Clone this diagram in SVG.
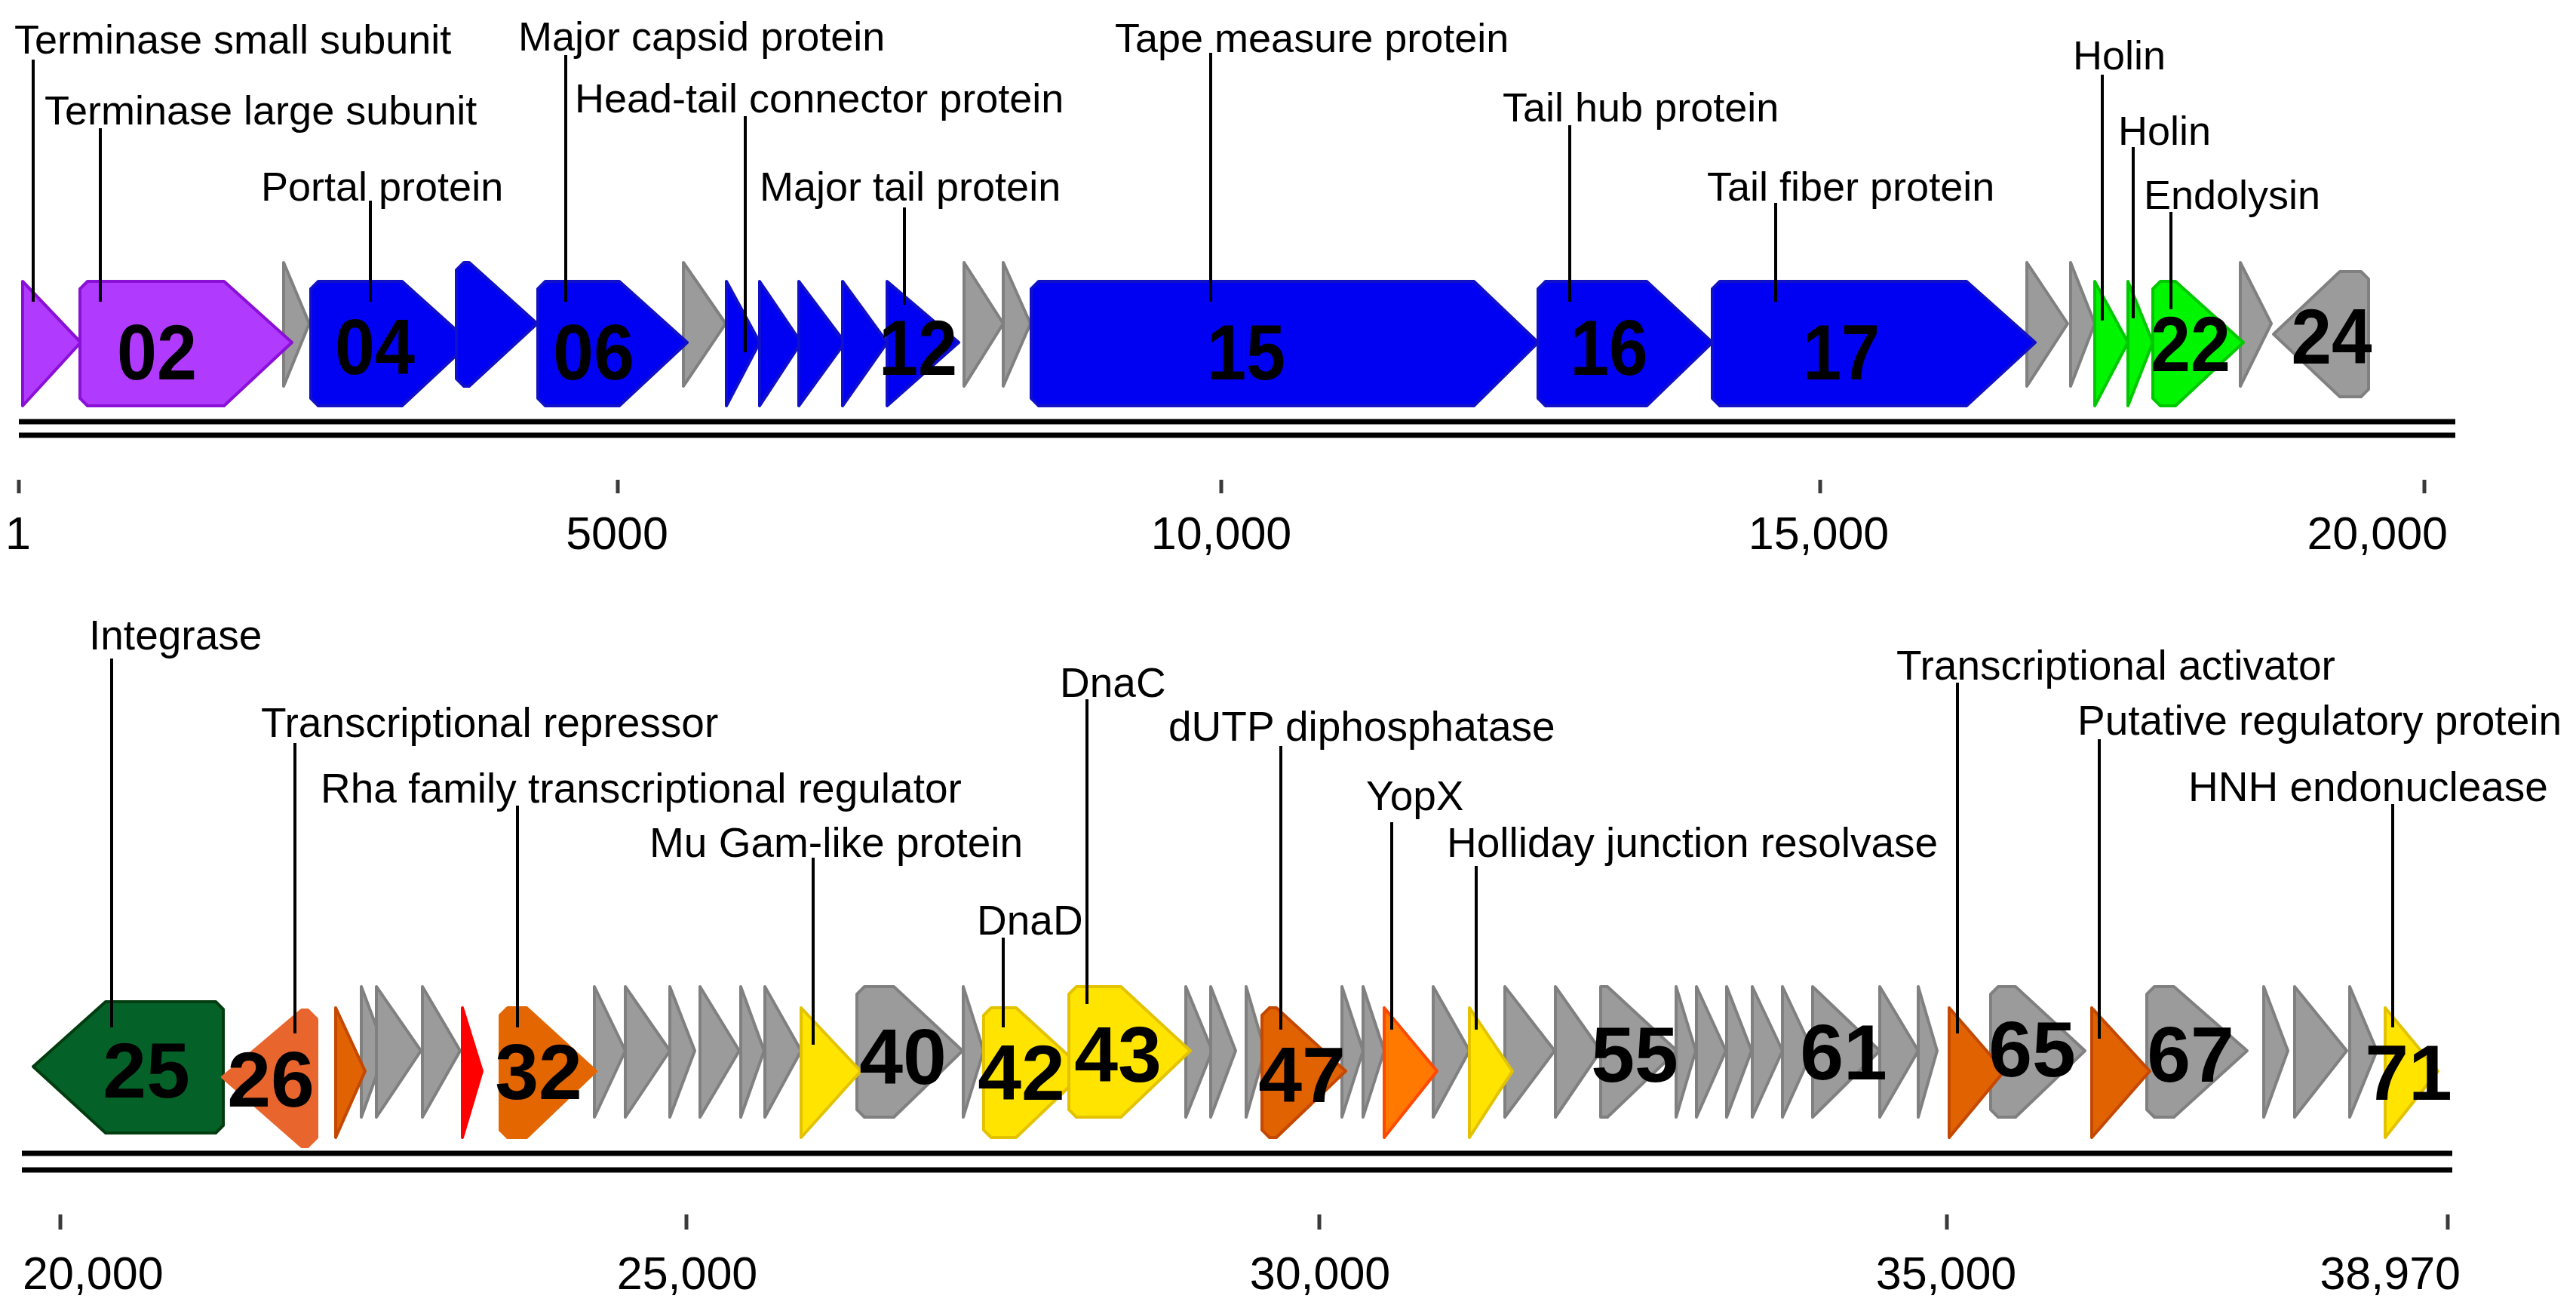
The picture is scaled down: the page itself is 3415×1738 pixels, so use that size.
<svg xmlns="http://www.w3.org/2000/svg" width="3415" height="1738" viewBox="0 0 3415 1738">
<style>
.g{stroke-width:4;stroke-linejoin:round}
.gray{fill:#9b9b9b;stroke:#808080}
.pur{fill:#b03bff;stroke:#8a10d6}
.blu{fill:#0000f2;stroke:#1010c8}
.grn{fill:#00f500;stroke:#00c800}
.dgr{fill:#046229;stroke:#023d10}
.orr{fill:#e8662e;stroke:#e8662e}
.ora{fill:#e06200;stroke:#c44800}
.orb{fill:#e36600;stroke:#e36600}
.red{fill:#ff0000;stroke:#ff0000}
.or2{fill:#ff7800;stroke:#ff4800}
.yel{fill:#ffe400;stroke:#e3c200}
.lead{stroke:#000;stroke-width:4;fill:none}
.base{stroke:#000;stroke-width:7}
.tick{stroke:#3a3a3a;stroke-width:5}
.ann{font-family:"Liberation Sans",Arial,sans-serif;fill:#000}
.t1{font-size:54px}
.t2{font-size:55px}
.ax{font-family:"Liberation Sans",Arial,sans-serif;font-size:61px;fill:#000}
.num{font-family:"Liberation Sans",Arial,sans-serif;font-weight:bold;font-size:104px;fill:#000;text-anchor:middle}
</style>
<rect width="3415" height="1738" fill="#fff"/>

<g id="axis-top">
<line class="base" x1="25" y1="559" x2="3255" y2="559"/>
<line class="base" x1="25" y1="577" x2="3255" y2="577"/>
<line class="tick" x1="25" y1="636" x2="25" y2="654"/>
<line class="tick" x1="819" y1="636" x2="819" y2="654"/>
<line class="tick" x1="1619" y1="636" x2="1619" y2="654"/>
<line class="tick" x1="2413" y1="636" x2="2413" y2="654"/>
<line class="tick" x1="3214" y1="636" x2="3214" y2="654"/>
<text class="ax" x="24" y="728" text-anchor="middle">1</text>
<text class="ax" x="818" y="728" text-anchor="middle">5000</text>
<text class="ax" x="1619" y="728" text-anchor="middle">10,000</text>
<text class="ax" x="2411" y="728" text-anchor="middle">15,000</text>
<text class="ax" x="3245" y="728" text-anchor="end">20,000</text>
</g>

<g id="axis-bottom">
<line class="base" x1="29" y1="1529" x2="3251" y2="1529"/>
<line class="base" x1="29" y1="1551" x2="3251" y2="1551"/>
<line class="tick" x1="80" y1="1610" x2="80" y2="1630"/>
<line class="tick" x1="910" y1="1610" x2="910" y2="1630"/>
<line class="tick" x1="1749" y1="1610" x2="1749" y2="1630"/>
<line class="tick" x1="2581" y1="1610" x2="2581" y2="1630"/>
<line class="tick" x1="3245" y1="1610" x2="3245" y2="1630"/>
<text class="ax" x="30" y="1709">20,000</text>
<text class="ax" x="911" y="1709" text-anchor="middle">25,000</text>
<text class="ax" x="1750" y="1709" text-anchor="middle">30,000</text>
<text class="ax" x="2580" y="1709" text-anchor="middle">35,000</text>
<text class="ax" x="3262" y="1709" text-anchor="end">38,970</text>
</g>

<!-- top row: gray genes -->
<g id="gene-03"><path class="g gray" d="M376,348 L410,429 L376,512 Z"/></g>
<g id="gene-07"><path class="g gray" d="M906,348 L962,429 L906,512 Z"/></g>
<g id="gene-13"><path class="g gray" d="M1278,348 L1330,429 L1278,512 Z"/></g>
<g id="gene-14"><path class="g gray" d="M1330,348 L1366,429 L1330,512 Z"/></g>
<g id="gene-18"><path class="g gray" d="M2687,348 L2741,429 L2687,512 Z"/></g>
<g id="gene-19"><path class="g gray" d="M2745,348 L2777,429 L2745,512 Z"/></g>
<g id="gene-23"><path class="g gray" d="M2970,348 L3011,429 L2970,512 Z"/></g>
<g id="gene-24"><path class="g gray" d="M3014,443 L3102,360 L3130,360 L3140,370 L3140,516 L3130,526 L3102,526 Z"/></g>

<!-- top row: coloured genes -->
<g id="gene-01"><path class="g pur" d="M30,373 L107,454 L30,538 Z"/></g>
<g id="gene-02"><path class="g pur" d="M116,373 L297,373 L387,454 L297,538 L116,538 L106,528 L106,383 Z"/></g>
<g id="gene-04"><path class="g blu" d="M422,373 L533,373 L623,454 L533,538 L422,538 L412,528 L412,383 Z"/></g>
<g id="gene-05"><path class="g blu" d="M615,348 L622,348 L712,429 L622,512 L615,512 L605,502 L605,358 Z"/></g>
<g id="gene-06"><path class="g blu" d="M723,373 L821,373 L911,454 L821,538 L723,538 L713,528 L713,383 Z"/></g>
<g id="gene-08"><path class="g blu" d="M963,373 L1007,454 L963,538 Z"/></g>
<g id="gene-09"><path class="g blu" d="M1007,373 L1062,454 L1007,538 Z"/></g>
<g id="gene-10"><path class="g blu" d="M1059,373 L1120,454 L1059,538 Z"/></g>
<g id="gene-11"><path class="g blu" d="M1117,373 L1176,454 L1117,538 Z"/></g>
<g id="gene-12"><path class="g blu" d="M1176,373 L1271,454 L1176,538 Z"/></g>
<g id="gene-15"><path class="g blu" d="M1377,373 L1954,373 L2039,454 L1954,538 L1377,538 L1367,528 L1367,383 Z"/></g>
<g id="gene-16"><path class="g blu" d="M2049,373 L2183,373 L2270,454 L2183,538 L2049,538 L2039,528 L2039,383 Z"/></g>
<g id="gene-17"><path class="g blu" d="M2280,373 L2607,373 L2698,454 L2607,538 L2280,538 L2270,528 L2270,383 Z"/></g>
<g id="gene-20"><path class="g grn" d="M2777,373 L2821,454 L2777,538 Z"/></g>
<g id="gene-21"><path class="g grn" d="M2821,373 L2854,454 L2821,538 Z"/></g>
<g id="gene-22"><path class="g grn" d="M2864,373 L2884,373 L2974,454 L2884,538 L2864,538 L2854,528 L2854,383 Z"/></g>

<!-- bottom row: gray genes -->
<g id="gene-28"><path class="g gray" d="M479,1308 L511,1393 L479,1481 Z"/></g>
<g id="gene-29"><path class="g gray" d="M499,1308 L558,1393 L499,1481 Z"/></g>
<g id="gene-30"><path class="g gray" d="M560,1308 L610,1393 L560,1481 Z"/></g>
<g id="gene-33"><path class="g gray" d="M788,1308 L829,1393 L788,1481 Z"/></g>
<g id="gene-34"><path class="g gray" d="M829,1308 L888,1393 L829,1481 Z"/></g>
<g id="gene-35"><path class="g gray" d="M888,1308 L921,1393 L888,1481 Z"/></g>
<g id="gene-36"><path class="g gray" d="M928,1308 L980,1393 L928,1481 Z"/></g>
<g id="gene-37"><path class="g gray" d="M982,1308 L1013,1393 L982,1481 Z"/></g>
<g id="gene-38"><path class="g gray" d="M1014,1308 L1062,1393 L1014,1481 Z"/></g>
<g id="gene-40"><path class="g gray" d="M1146,1308 L1185,1308 L1276,1393 L1185,1481 L1146,1481 L1136,1471 L1136,1318 Z"/></g>
<g id="gene-41"><path class="g gray" d="M1277,1308 L1304,1393 L1277,1481 Z"/></g>
<g id="gene-44"><path class="g gray" d="M1572,1308 L1607,1393 L1572,1481 Z"/></g>
<g id="gene-45"><path class="g gray" d="M1605,1308 L1638,1393 L1605,1481 Z"/></g>
<g id="gene-46"><path class="g gray" d="M1652,1308 L1677,1393 L1652,1481 Z"/></g>
<g id="gene-48"><path class="g gray" d="M1779,1308 L1807,1393 L1779,1481 Z"/></g>
<g id="gene-49"><path class="g gray" d="M1807,1308 L1835,1393 L1807,1481 Z"/></g>
<g id="gene-51"><path class="g gray" d="M1900,1308 L1948,1393 L1900,1481 Z"/></g>
<g id="gene-53"><path class="g gray" d="M1995,1308 L2061,1393 L1995,1481 Z"/></g>
<g id="gene-54"><path class="g gray" d="M2062,1308 L2122,1393 L2062,1481 Z"/></g>
<g id="gene-55"><path class="g gray" d="M2122,1308 L2131,1308 L2223,1393 L2131,1481 L2122,1481 Z"/></g>
<g id="gene-56"><path class="g gray" d="M2222,1308 L2248,1393 L2222,1481 Z"/></g>
<g id="gene-57"><path class="g gray" d="M2249,1308 L2288,1393 L2249,1481 Z"/></g>
<g id="gene-58"><path class="g gray" d="M2289,1308 L2322,1393 L2289,1481 Z"/></g>
<g id="gene-59"><path class="g gray" d="M2323,1308 L2363,1393 L2323,1481 Z"/></g>
<g id="gene-60"><path class="g gray" d="M2363,1308 L2403,1393 L2363,1481 Z"/></g>
<g id="gene-61"><path class="g gray" d="M2403,1308 L2492,1393 L2403,1481 Z"/></g>
<g id="gene-62"><path class="g gray" d="M2492,1308 L2543,1393 L2492,1481 Z"/></g>
<g id="gene-63"><path class="g gray" d="M2543,1308 L2568,1393 L2543,1481 Z"/></g>
<g id="gene-65"><path class="g gray" d="M2649,1308 L2672,1308 L2764,1393 L2672,1481 L2649,1481 L2639,1471 L2639,1318 Z"/></g>
<g id="gene-67"><path class="g gray" d="M2856,1308 L2882,1308 L2979,1393 L2882,1481 L2856,1481 L2846,1471 L2846,1318 Z"/></g>
<g id="gene-68"><path class="g gray" d="M3001,1308 L3033,1393 L3001,1481 Z"/></g>
<g id="gene-69"><path class="g gray" d="M3042,1308 L3111,1393 L3042,1481 Z"/></g>
<g id="gene-70"><path class="g gray" d="M3115,1308 L3151,1393 L3115,1481 Z"/></g>

<!-- bottom row: coloured genes -->
<g id="gene-25"><path class="g dgr" d="M44,1414 L140,1328 L286,1328 L296,1338 L296,1492 L286,1502 L140,1502 Z"/></g>
<g id="gene-26"><path class="g orr" d="M295,1428 L400,1339 L408,1339 L420,1351 L420,1508 L408,1520 L400,1520 Z"/></g>
<g id="gene-27"><path class="g ora" d="M445,1336 L484,1420 L445,1508 Z"/></g>
<g id="gene-31"><path class="g red" d="M613,1336 L639,1420 L613,1508 Z"/></g>
<g id="gene-32"><path class="g orb" d="M673,1336 L698,1336 L790,1420 L698,1508 L673,1508 L663,1498 L663,1346 Z"/></g>
<g id="gene-39"><path class="g yel" d="M1062,1336 L1141,1420 L1062,1508 Z"/></g>
<g id="gene-42"><path class="g yel" d="M1314,1336 L1347,1336 L1439,1420 L1347,1508 L1314,1508 L1304,1498 L1304,1346 Z"/></g>
<g id="gene-43"><path class="g yel" d="M1427,1308 L1486,1308 L1578,1393 L1486,1481 L1427,1481 L1417,1471 L1417,1318 Z"/></g>
<g id="gene-47"><path class="g ora" d="M1683,1336 L1692,1336 L1784,1420 L1692,1508 L1683,1508 L1673,1498 L1673,1346 Z"/></g>
<g id="gene-50"><path class="g or2" d="M1835,1336 L1905,1420 L1835,1508 Z"/></g>
<g id="gene-52"><path class="g yel" d="M1948,1336 L2005,1420 L1948,1508 Z"/></g>
<g id="gene-64"><path class="g ora" d="M2584,1336 L2657,1420 L2584,1508 Z"/></g>
<g id="gene-66"><path class="g ora" d="M2773,1336 L2850,1420 L2773,1508 Z"/></g>
<g id="gene-71"><path class="g yel" d="M3162,1336 L3232,1420 L3162,1508 Z"/></g>

<g id="connectors">
<line class="lead" x1="44" y1="79" x2="44" y2="400"/>
<line class="lead" x1="133" y1="170" x2="133" y2="400"/>
<line class="lead" x1="491" y1="266" x2="491" y2="400"/>
<line class="lead" x1="750" y1="73" x2="750" y2="400"/>
<line class="lead" x1="988" y1="154" x2="988" y2="467"/>
<line class="lead" x1="1199" y1="275" x2="1199" y2="404"/>
<line class="lead" x1="1605" y1="70" x2="1605" y2="400"/>
<line class="lead" x1="2081" y1="166" x2="2081" y2="400"/>
<line class="lead" x1="2354" y1="269" x2="2354" y2="400"/>
<line class="lead" x1="2787" y1="99" x2="2787" y2="425"/>
<line class="lead" x1="2828" y1="195" x2="2828" y2="422"/>
<line class="lead" x1="2878" y1="281" x2="2878" y2="410"/>
<line class="lead" x1="148" y1="873" x2="148" y2="1362"/>
<line class="lead" x1="391" y1="985" x2="391" y2="1370"/>
<line class="lead" x1="686" y1="1068" x2="686" y2="1362"/>
<line class="lead" x1="1078" y1="1137" x2="1078" y2="1385"/>
<line class="lead" x1="1330" y1="1243" x2="1330" y2="1362"/>
<line class="lead" x1="1441" y1="927" x2="1441" y2="1331"/>
<line class="lead" x1="1698" y1="989" x2="1698" y2="1365"/>
<line class="lead" x1="1845" y1="1090" x2="1845" y2="1365"/>
<line class="lead" x1="1957" y1="1148" x2="1957" y2="1365"/>
<line class="lead" x1="2595" y1="905" x2="2595" y2="1370"/>
<line class="lead" x1="2783" y1="980" x2="2783" y2="1377"/>
<line class="lead" x1="3172" y1="1066" x2="3172" y2="1362"/>
</g>

<g id="gene-numbers">
<text class="num" x="208" y="503" textLength="106" lengthAdjust="spacingAndGlyphs">02</text>
<text class="num" x="497" y="496" textLength="106" lengthAdjust="spacingAndGlyphs">04</text>
<text class="num" x="787" y="503" textLength="108" lengthAdjust="spacingAndGlyphs">06</text>
<text class="num" x="1217" y="497" textLength="104" lengthAdjust="spacingAndGlyphs">12</text>
<text class="num" x="1652" y="503" textLength="104" lengthAdjust="spacingAndGlyphs">15</text>
<text class="num" x="2133" y="497" textLength="103" lengthAdjust="spacingAndGlyphs">16</text>
<text class="num" x="2441" y="503" textLength="102" lengthAdjust="spacingAndGlyphs">17</text>
<text class="num" x="2904" y="492" textLength="106" lengthAdjust="spacingAndGlyphs">22</text>
<text class="num" x="3091" y="482" textLength="107" lengthAdjust="spacingAndGlyphs">24</text>
<text class="num" x="194" y="1455">25</text>
<text class="num" x="359" y="1467">26</text>
<text class="num" x="714" y="1457">32</text>
<text class="num" x="1197" y="1437">40</text>
<text class="num" x="1354" y="1458">42</text>
<text class="num" x="1482" y="1434">43</text>
<text class="num" x="1726" y="1461">47</text>
<text class="num" x="2167" y="1434">55</text>
<text class="num" x="2444" y="1431">61</text>
<text class="num" x="2694" y="1427">65</text>
<text class="num" x="2904" y="1434">67</text>
<text class="num" x="3193" y="1458">71</text>
</g>

<g id="annotations-top" class="ann t1">
<text x="19" y="71">Terminase small subunit</text>
<text x="59" y="165">Terminase large subunit</text>
<text x="346" y="266">Portal protein</text>
<text x="687" y="67">Major capsid protein</text>
<text x="762" y="149">Head-tail connector protein</text>
<text x="1007" y="266">Major tail protein</text>
<text x="1478" y="69">Tape measure protein</text>
<text x="1992" y="161">Tail hub protein</text>
<text x="2263" y="266">Tail fiber protein</text>
<text x="2748" y="92">Holin</text>
<text x="2808" y="192">Holin</text>
<text x="2842" y="277">Endolysin</text>
</g>

<g id="annotations-bottom" class="ann t2">
<text x="118" y="861">Integrase</text>
<text x="346" y="977">Transcriptional repressor</text>
<text x="425" y="1064">Rha family transcriptional regulator</text>
<text x="861" y="1136">Mu Gam-like protein</text>
<text x="1295" y="1239">DnaD</text>
<text x="1405" y="924">DnaC</text>
<text x="1549" y="982">dUTP diphosphatase</text>
<text x="1811" y="1074">YopX</text>
<text x="1918" y="1136">Holliday junction resolvase</text>
<text x="2514" y="901">Transcriptional activator</text>
<text x="2754" y="974">Putative regulatory protein</text>
<text x="2901" y="1062">HNH endonuclease</text>
</g>
</svg>
